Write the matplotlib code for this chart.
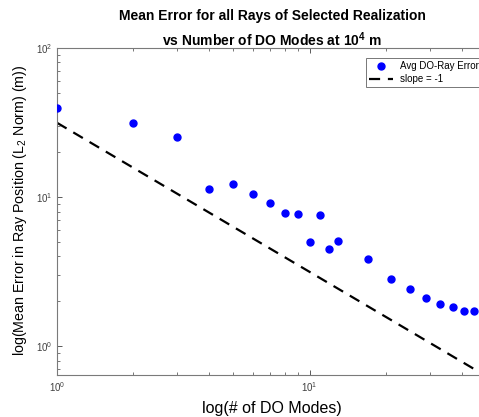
import numpy as np
import matplotlib
matplotlib.use("Agg")
import matplotlib.pyplot as plt

plt.rcParams['font.family'] = ['Liberation Sans', 'DejaVu Sans']
plt.rcParams['mathtext.fontset'] = 'custom'
plt.rcParams['mathtext.rm'] = 'Liberation Sans'
plt.rcParams['mathtext.bf'] = 'Liberation Sans:bold'
plt.rcParams['mathtext.it'] = 'Liberation Sans:italic'

# number of DO modes and mean ray error
n_modes = [1, 2, 3, 4, 5, 6, 7, 8, 9, 10, 11, 12, 13, 17, 21, 25, 29, 33, 37, 41, 45]
mean_err = [39.4, 31.3, 25.2, 11.4, 12.2, 10.5, 9.1, 7.8, 7.7, 4.96, 7.6, 4.48, 5.04,
            3.86, 2.80, 2.41, 2.11, 1.93, 1.82, 1.73, 1.73]
slope_coef = 31.5  # reference line y = c / n

W, H = 479, 417
fig = plt.figure(figsize=(W / 100, H / 100), dpi=100)
# axes box in pixels: left 57, right past the edge, top 48, bottom 375
ax = fig.add_axes([57 / W, (H - 375) / H, (486 - 57) / W, (375 - 48) / H])

ax.plot(n_modes, mean_err, 'o', color='#0000ff', markersize=5,
        label='Avg DO-Ray Error', zorder=3)
xs = np.array([1, 50])
ax.plot(xs, slope_coef / xs, '--', color='black', linewidth=1.6,
        dashes=(5, 3.5), label='slope = -1')

ax.set_xscale('log')
ax.set_yscale('log')
ax.set_xlim(1, 50)
ax.set_ylim(0.64, 100)

ax.tick_params(which='both', direction='in', top=True, right=True,
               labelsize=7, colors='#404040')
ax.tick_params(which='major', length=3.5, width=0.6)
ax.tick_params(which='minor', length=2, width=0.5)
for s in ax.spines.values():
    s.set_color('#7a7a7a')
    s.set_linewidth(0.8)

ax.set_xlabel('log(# of DO Modes)', fontsize=11.5, labelpad=5)
fig.text(20 / W, 1 - 210 / H, r'log(Mean Error in Ray Position (L$_2$ Norm) (m))',
         rotation=90, ha='center', va='center', fontsize=10.3)

# two-line bold title placed in pixel coordinates
tx = 272 / W
fig.text(tx, 1 - 16 / H, 'Mean Error for all Rays of Selected Realization',
         ha='center', va='center', fontsize=10, fontweight='bold')
fig.text(tx, 1 - 40 / H, r'vs Number of DO Modes at 10$^{\mathbf{4}}$ m',
         ha='center', va='center', fontsize=10, fontweight='bold')

leg = ax.legend(loc='upper right', bbox_to_anchor=((479 - 57) / (486 - 57) + 0.02, 0.985),
                fontsize=7, frameon=True, fancybox=False, edgecolor='#555555',
                handlelength=2.4, borderpad=0.35, labelspacing=0.3)
leg.get_frame().set_linewidth(0.7)

fig.savefig('out.png', dpi=100)
